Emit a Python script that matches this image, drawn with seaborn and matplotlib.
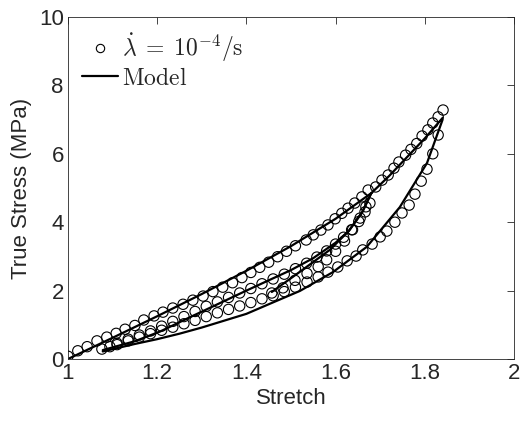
import numpy as np
import pandas as pd
import matplotlib
matplotlib.use("Agg")
import matplotlib.pyplot as plt
from matplotlib.lines import Line2D
import seaborn as sns

# ---------------- data ----------------
# experimental points: first loading (upper branch)
load1_s = [1.000, 1.022, 1.043, 1.065, 1.087, 1.108, 1.128, 1.150, 1.170, 1.193,
           1.213, 1.235, 1.258, 1.280, 1.303, 1.325, 1.347, 1.369, 1.390, 1.410,
           1.430, 1.450, 1.470, 1.490, 1.510, 1.534, 1.550, 1.567, 1.583, 1.599,
           1.614, 1.628, 1.643, 1.659, 1.673]
load1_t = [0.08, 0.24, 0.36, 0.53, 0.64, 0.75, 0.87, 0.98, 1.14, 1.26,
           1.37, 1.49, 1.60, 1.72, 1.84, 1.97, 2.10, 2.23, 2.38, 2.53,
           2.68, 2.83, 2.99, 3.15, 3.31, 3.48, 3.63, 3.77, 3.92, 4.10,
           4.26, 4.41, 4.56, 4.74, 4.94]
# first unloading (1.68 -> 1.07)
unload1_s = [1.677, 1.666, 1.652, 1.636, 1.618, 1.600, 1.580, 1.558, 1.535, 1.510,
             1.485, 1.460, 1.435, 1.410, 1.385, 1.360, 1.335, 1.310, 1.285, 1.260,
             1.235, 1.210, 1.185, 1.160, 1.135, 1.110, 1.094, 1.076]
unload1_t = [4.56, 4.30, 4.02, 3.78, 3.56, 3.36, 3.16, 2.98, 2.80, 2.64,
             2.48, 2.34, 2.20, 2.06, 1.93, 1.80, 1.67, 1.54, 1.39, 1.24,
             1.10, 0.96, 0.82, 0.70, 0.58, 0.46, 0.36, 0.29]
# reloading (1.46 -> 1.84)
reload_s = [1.457, 1.482, 1.509, 1.536, 1.561, 1.580, 1.600, 1.620, 1.638, 1.655,
            1.668, 1.690, 1.704, 1.718, 1.731, 1.742, 1.757, 1.769, 1.782, 1.794,
            1.807, 1.818, 1.830, 1.841]
reload_t = [1.93, 2.08, 2.30, 2.50, 2.70, 2.90, 3.15, 3.45, 3.78, 4.12,
            4.45, 5.03, 5.23, 5.38, 5.58, 5.76, 5.96, 6.13, 6.30, 6.52,
            6.70, 6.90, 7.08, 7.28]
# second unloading (1.84 -> 1.07)
unload2_s = [1.830, 1.818, 1.805, 1.792, 1.778, 1.765, 1.749, 1.733, 1.715, 1.700,
             1.682, 1.661, 1.646, 1.626, 1.605, 1.583, 1.561, 1.536, 1.510, 1.485,
             1.460, 1.435, 1.410, 1.385, 1.360, 1.335, 1.310, 1.285, 1.260, 1.235,
             1.210, 1.185, 1.160, 1.135, 1.110]
unload2_t = [6.55, 6.00, 5.55, 5.20, 4.82, 4.50, 4.27, 4.00, 3.74, 3.57,
             3.36, 3.19, 3.01, 2.87, 2.69, 2.54, 2.40, 2.25, 2.10, 1.97,
             1.85, 1.76, 1.65, 1.55, 1.45, 1.35, 1.24, 1.13, 1.03, 0.93,
             0.84, 0.74, 0.64, 0.53, 0.42]

# model curves
m_load_s = [1.00, 1.10, 1.20, 1.30, 1.40, 1.50, 1.60, 1.68, 1.72, 1.76, 1.80, 1.84]
m_load_t = [0.00, 0.62, 1.25, 1.90, 2.58, 3.30, 4.10, 4.85, 5.35, 5.90, 6.45, 7.05]
m_unl1_s = [1.68, 1.66, 1.63, 1.60, 1.55, 1.50, 1.45, 1.40, 1.34, 1.27, 1.206, 1.15, 1.078]
m_unl1_t = [4.85, 4.30, 3.75, 3.40, 2.95, 2.60, 2.30, 2.00, 1.63, 1.20, 0.80, 0.52, 0.26]
m_rel_s = [1.457, 1.52, 1.587, 1.63, 1.66, 1.68]
m_rel_t = [1.96, 2.55, 3.19, 3.75, 4.30, 4.85]
m_unl2_s = [1.84, 1.805, 1.744, 1.67, 1.594, 1.52, 1.45, 1.40, 1.35, 1.30, 1.25, 1.20, 1.15, 1.078]
m_unl2_t = [7.00, 5.73, 4.44, 3.28, 2.54, 1.99, 1.60, 1.32, 1.12, 0.92, 0.74, 0.58, 0.44, 0.22]

x_ticks = [1, 1.2, 1.4, 1.6, 1.8, 2]
x_ticklabels = ["1", "1.2", "1.4", "1.6", "1.8", "2"]
y_ticks = [0, 2, 4, 6, 8, 10]

# ---------------- tables ----------------
exp = pd.concat([
    pd.DataFrame({"s": load1_s, "t": load1_t, "seg": "load1"}),
    pd.DataFrame({"s": unload1_s, "t": unload1_t, "seg": "unload1"}),
    pd.DataFrame({"s": reload_s, "t": reload_t, "seg": "reload"}),
    pd.DataFrame({"s": unload2_s, "t": unload2_t, "seg": "unload2"}),
], ignore_index=True)

model = pd.concat([
    pd.DataFrame({"s": m_load_s, "t": m_load_t, "seg": "m1"}),
    pd.DataFrame({"s": m_unl1_s, "t": m_unl1_t, "seg": "m2"}),
    pd.DataFrame({"s": m_rel_s, "t": m_rel_t, "seg": "m3"}),
    pd.DataFrame({"s": m_unl2_s, "t": m_unl2_t, "seg": "m4"}),
], ignore_index=True)

# ---------------- style ----------------
sns.set_theme(style="white")
plt.rcParams["font.family"] = ["Liberation Sans", "DejaVu Sans"]
plt.rcParams["mathtext.fontset"] = "cm"
dark = "#262626"

fig = plt.figure(figsize=(5.21, 4.22), dpi=100)
ax = fig.add_axes([0.1305, 0.1493, 0.856, 0.8104])

sns.lineplot(data=model, x="s", y="t", units="seg", estimator=None, sort=False,
             color="black", lw=1.6, ax=ax, legend=False)
sns.scatterplot(data=exp, x="s", y="t", marker="o", s=55, facecolor="none",
                edgecolor="black", linewidth=0.8, ax=ax, legend=False, zorder=3)

ax.set_xlim(1, 2)
ax.set_ylim(0, 10)
ax.set_xticks(x_ticks)
ax.set_xticklabels(x_ticklabels)
ax.set_yticks(y_ticks)
ax.tick_params(direction="in", length=5, width=0.6, colors=dark, labelsize=16,
               top=True, right=True, pad=3)
for sp in ax.spines.values():
    sp.set_color(dark)
    sp.set_linewidth(0.6)
ax.set_xlabel("Stretch", fontsize=16, color=dark, labelpad=3)
ax.set_ylabel("True Stress (MPa)", fontsize=16, color=dark, labelpad=5)

h1 = Line2D([], [], ls="none", marker="o", mfc="none", mec="black", ms=6, mew=0.8)
h2 = Line2D([], [], color="black", lw=1.6)
leg = ax.legend([h1, h2],
                [r"$\dot{\lambda}\;=\;10^{-4}/\mathrm{s}$", r"$\mathrm{Model}$"],
                loc="upper left", frameon=False, fontsize=17, handlelength=1.5,
                handletextpad=0.2, borderaxespad=0.2, labelspacing=0.15,
                bbox_to_anchor=(0.0, 1.0))

fig.savefig("out.png", dpi=100)
